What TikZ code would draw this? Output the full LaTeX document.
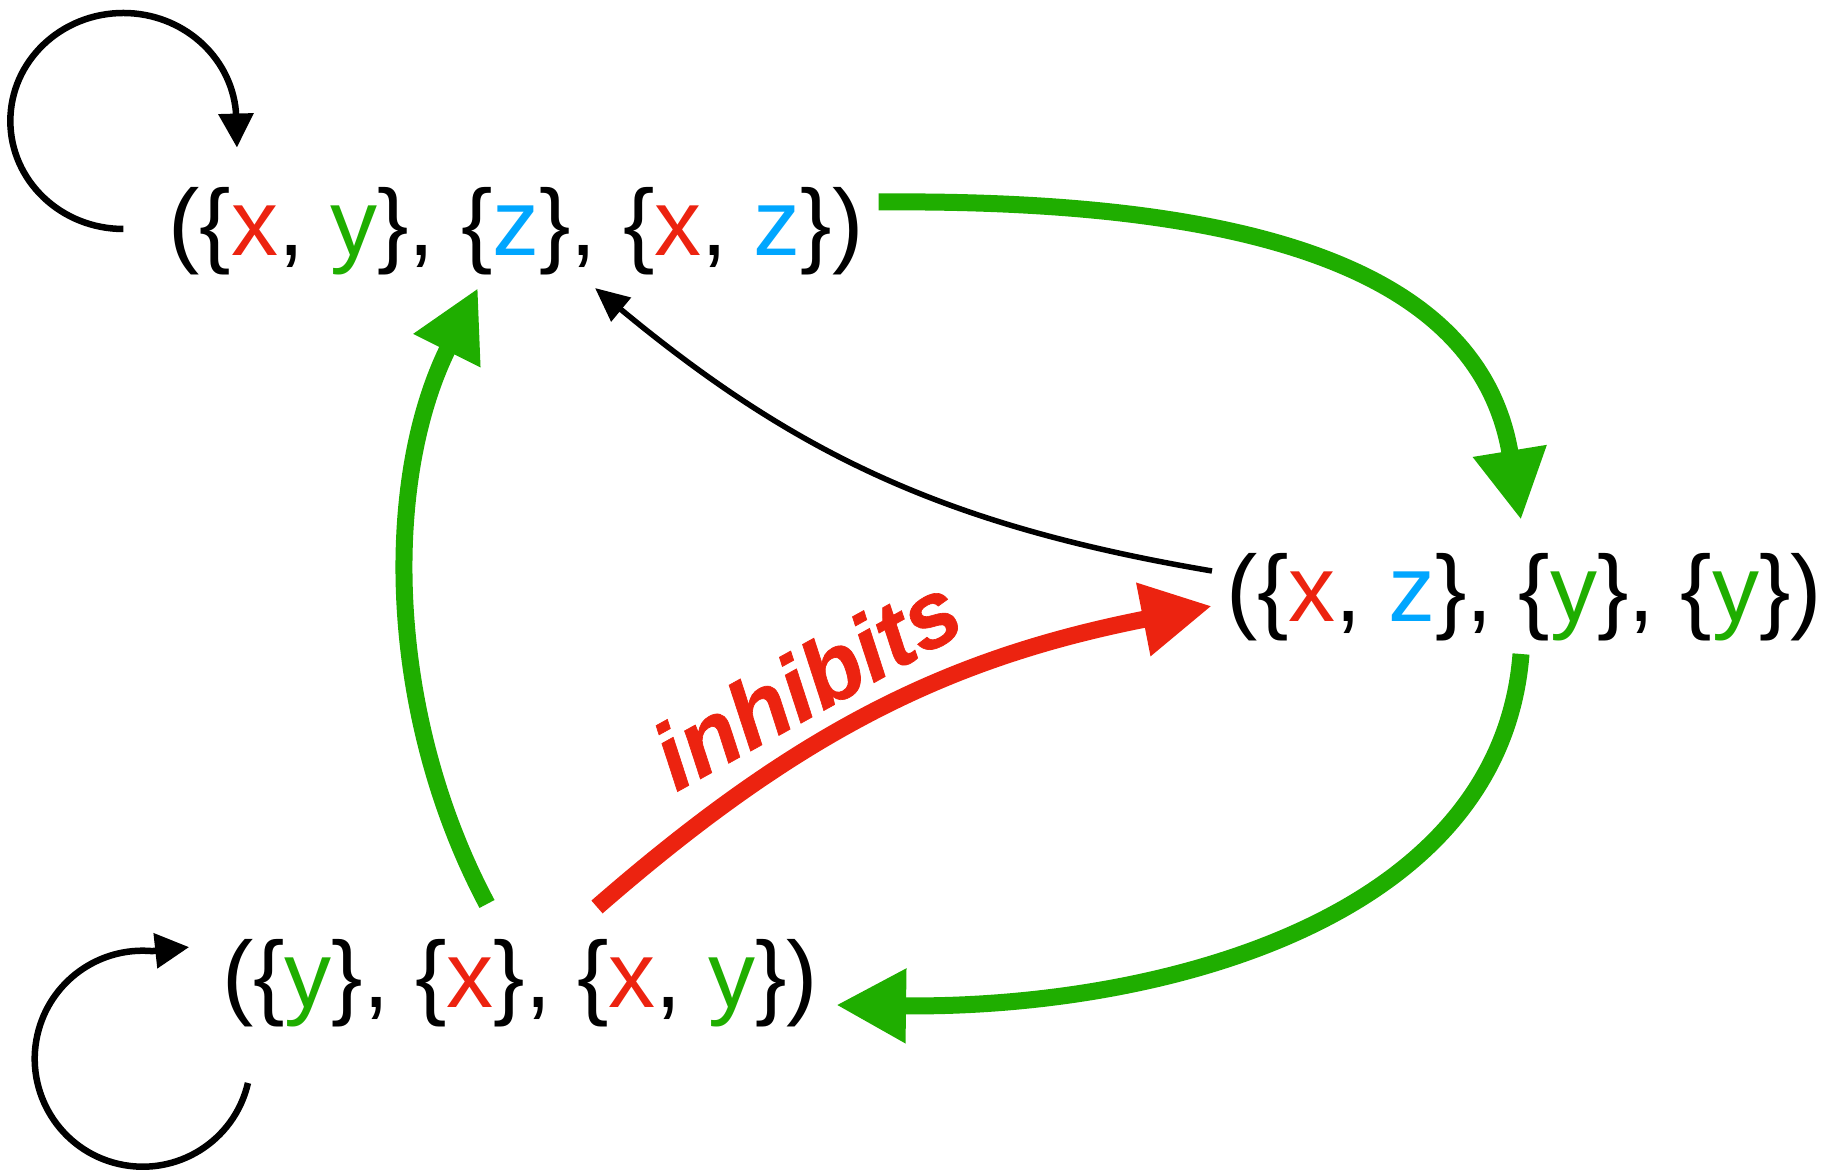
\documentclass[tikz,border=0pt]{standalone}
\usepackage{fontspec}
\setmainfont{Liberation Sans}
\newfontfamily\labfont{Liberation Sans}[BoldItalicFeatures={FakeBold=0.7}]
\usetikzlibrary{arrows.meta,calc}
\definecolor{cr}{HTML}{EC2310}
\definecolor{cg}{HTML}{1FAE00}
\definecolor{cb}{HTML}{00A6FF}
\newcommand{\rx}{{\color{cr}x}}
\newcommand{\gy}{{\color{cg}y}}
\newcommand{\bz}{{\color{cb}z}}
\begin{document}
\begin{tikzpicture}[x=1pt,y=1pt,
  statenode/.style={inner sep=0pt, font=\fontsize{94}{100}\selectfont},
  garrow/.style={draw=cg, line width=17pt, -{Triangle[length=70pt,width=70pt]}},
  rarrow/.style={draw=cr, line width=17pt, -{Triangle[length=70pt,width=70pt]}},
  barrow/.style={draw=black, line width=5.5pt, -{Triangle[length=34pt,width=30pt]}},
  looparrow/.style={draw=black, line width=6.5pt, -{Triangle[length=34pt,width=34pt]}},
  lab/.style={text=cr, inner sep=0pt, font=\labfont\fontsize{94}{100}\selectfont\bfseries\itshape}]
\useasboundingbox (0,0) rectangle (1828,1174);
\node[statenode] (top) at (516,943) {(\{\rx, \gy\}, \{\bz\}, \{\rx, \bz\})};
\node[statenode] (rightn) at (1524,577) {(\{\rx, \bz\}, \{\gy\}, \{\gy\})};
\node[statenode] (bottom) at (520,191) {(\{\gy\}, \{\rx\}, \{\rx, \gy\})};
% self loops
\draw[looparrow] ($(top.west)+(-45,2)$) arc[start angle=270, end angle=5, x radius=113, y radius=108] -- ++(1,-36);
\draw[looparrow] ($(bottom.west)+(26,-100)$) arc[start angle=-13, end angle=-275, radius=108] -- ++(37,4);
% connectors
\draw[garrow] ($(top.east)+(15,29)$) .. controls (1250,975) and (1480,905) .. ($(rightn.north)+(-3,33)$);
\draw[barrow] ($(rightn.west)+(-14,26)$) to[bend left=15] ($(top.south)+(79,-13)$);
\draw[garrow] ($(rightn.south)+(-3,-13)$) .. controls (1500,250) and (1150,165) .. ($(bottom.east)+(18,-22)$);
\draw[garrow] ($(bottom.north)+(-33,35)$) .. controls (386,460) and (382,693) .. ($(top.south)+(-38,-13)$);
\draw[rarrow] ($(bottom.north)+(77,32)$) to[bend left=15] ($(rightn.west)+(-14,-9)$);
\node[lab, rotate=29] (lbl) at (806,492) {inhibits};
\end{tikzpicture}
\end{document}
